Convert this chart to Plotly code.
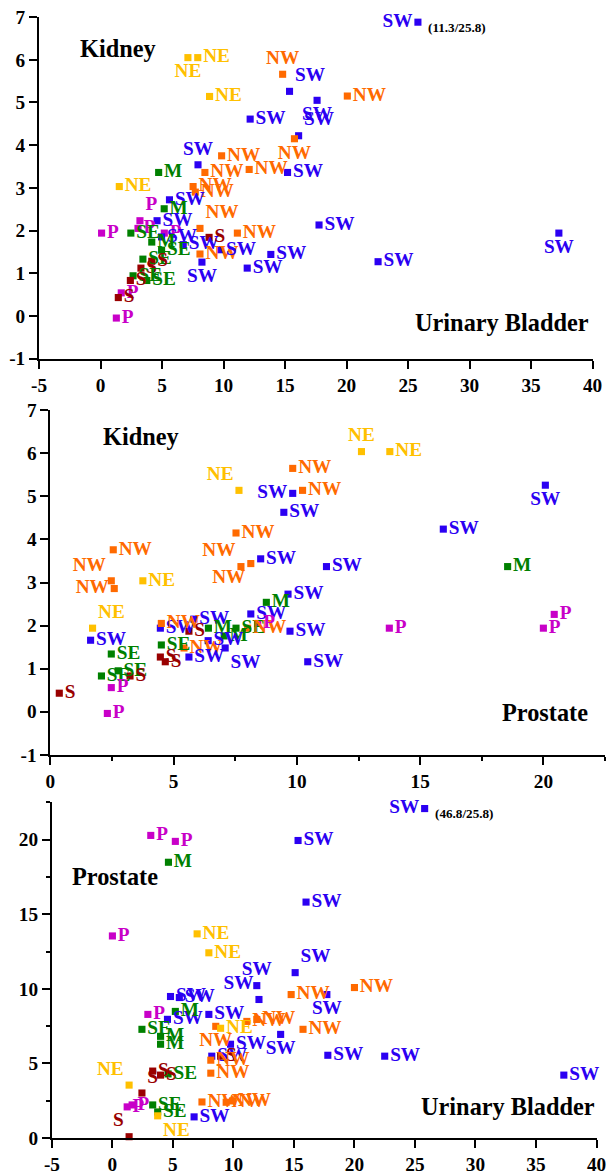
import plotly.graph_objects as go

FIG_W, FIG_H = 615, 1175
BODY_MARGIN = 8                    # default html body margin around the figure
# the page (figure plus body margin) is shown scaled to the 1175 px window height
SCALE = (FIG_H + 2 * BODY_MARGIN) / FIG_H
FONT = "Liberation Serif, Times New Roman, serif"

# Colour per sampling region
REGION_COLORS = {
    "SW": "#2B00F2",
    "NW": "#FF6A00",
    "NE": "#FFC000",
    "M": "#008000",
    "SE": "#008000",
    "S": "#990000",
    "P": "#C800C8",
}

# Panel A: Kidney vs Urinary Bladder
a_region = ["NE", "NE", "NE", "NW", "SW", "SW", "SW", "NW", "SW", "NW",
            "SW", "NE", "M", "SW", "NW", "NW", "NW", "NW", "NW", "NW",
            "SW", "M", "SW", "P", "P", "P", "SE", "P", "SW", "M",
            "SW", "SE", "NW", "SW", "S", "NW", "SW", "SW", "SW", "SE",
            "S", "S", "SE", "SE", "S", "P", "S", "P", "SW", "SW",
            "SW", "SW"]
a_bladder = [7.1, 7.9, 8.86, 14.8, 15.36, 12.16, 17.6, 20.06, 16.1, 15.76,
             15.2, 1.52, 4.72, 7.92, 9.84, 8.48, 12.08, 7.52, 7.7, 8.08,
             5.6, 5.17, 4.59, 3.2, 3.04, 0.08, 2.46, 5.18, 4.96, 4.16,
             6.72, 4.96, 8.08, 9.76, 8.82, 11.12, 8.24, 11.92, 13.84, 3.44,
             4.16, 3.28, 2.64, 3.76, 2.42, 1.68, 1.44, 1.28, 17.76, 22.56,
             37.26, 25.8]
a_kidney = [6.05, 6.05, 5.14, 5.66, 5.26, 4.61, 5.05, 5.15, 4.22, 4.15,
            3.36, 3.03, 3.36, 3.54, 3.75, 3.36, 3.43, 3.03, 2.9, 2.05,
            2.72, 2.51, 2.23, 2.23, 2.05, 1.94, 1.94, 1.94, 1.85, 1.73,
            1.67, 1.54, 1.45, 1.55, 1.84, 1.94, 1.26, 1.12, 1.44, 1.33,
            1.28, 1.12, 0.94, 0.83, 0.83, 0.54, 0.43, -0.05, 2.13, 1.27,
            1.94, 11.3]
a_place = ["bc", "r", "r", "tc", "tr", "r", "bc", "r", "tr", "bc",
           "r", "r", "r", "tc", "r", "r", "r", "r", "r", "tr",
           "r", "r", "r", "tr", "r", "r", "r", "r", "r", "r",
           "r", "r", "r", "r", "r", "r", "bc", "r", "r", "r",
           "r", "r", "r", "r", "r", "r", "r", "r", "r", "r",
           "bc", "l"]

# Panel B: Kidney vs Prostate
b_region = ["NW", "NW", "NW", "NE", "NE", "NW", "NW", "NW", "SW", "SW",
            "SW", "NW", "NW", "NE", "NE", "SW", "SW", "SW", "M", "NE",
            "SW", "SE", "SE", "SE", "S", "S", "P", "P", "SW", "NW",
            "SW", "S", "M", "SE", "NW", "S", "S", "SW", "SW", "M",
            "SE", "SW", "NW", "SW", "P", "M", "SW", "SW", "SW", "P",
            "P", "P"]
b_prostate = [2.55, 2.47, 2.59, 3.75, 7.65, 7.53, 7.73, 8.13, 8.53, 9.47,
              9.83, 9.83, 10.23, 12.62, 13.77, 20.08, 15.94, 11.2, 18.55, 1.71,
              1.63, 2.47, 2.07, 2.75, 3.23, 0.36, 2.47, 2.31, 4.46, 4.5,
              5.82, 5.62, 6.41, 4.5, 5.42, 4.46, 4.66, 5.62, 7.09, 7.05,
              7.53, 6.4, 8.0, 8.13, 8.41, 8.76, 9.64, 9.72, 10.44, 13.75,
              20.0, 20.44]
b_kidney = [3.76, 3.04, 2.86, 3.04, 5.14, 4.15, 3.37, 3.44, 3.55, 4.63,
            5.07, 5.65, 5.14, 6.04, 6.04, 5.26, 4.24, 3.37, 3.37, 1.94,
            1.66, 1.34, 0.83, 0.95, 0.83, 0.43, 0.56, -0.04, 1.94, 2.05,
            2.15, 1.87, 1.94, 1.55, 1.48, 1.27, 1.16, 1.27, 1.48, 1.76,
            1.94, 1.65, 1.94, 2.27, 2.05, 2.54, 2.73, 1.87, 1.16, 1.94,
            1.94, 2.26]
b_place = ["r", "tl", "l", "r", "tl", "r", "tl", "bl", "r", "r",
           "l", "r", "r", "tc", "r", "bc", "r", "r", "r", "tr",
           "r", "r", "r", "r", "r", "r", "r", "r", "r", "r",
           "r", "r", "r", "r", "r", "r", "r", "r", "br", "r",
           "r", "r", "r", "r", "r", "r", "r", "r", "r", "r",
           "r", "r"]

# Panel C: Prostate vs Urinary Bladder
c_region = ["P", "P", "M", "P", "NE", "NE", "SW", "SW", "SW", "SW",
            "SW", "NW", "SW", "NW", "SW", "SW", "SW", "M", "P", "SE",
            "M", "M", "SW", "NW", "NE", "NW", "NW", "SW", "NW", "SW",
            "SW", "S", "NW", "NW", "S", "S", "SE", "NE", "S", "P",
            "P", "SE", "SE", "NE", "S", "NW", "NW", "NW", "SW", "SW",
            "SW", "SW", "SW"]
c_bladder = [3.17, 5.2, 4.63, 0.0, 7.0, 7.97, 15.34, 16.0, 11.93, 15.1,
             25.8, 20.0, 12.11, 14.77, 4.8, 5.53, 4.55, 5.2, 2.93, 2.44,
             3.98, 3.98, 7.97, 8.54, 8.94, 11.11, 11.93, 13.9, 15.75, 9.76,
             8.21, 8.94, 8.13, 8.13, 3.33, 3.98, 4.6, 1.38, 2.44, 1.22,
             1.63, 3.33, 3.74, 3.74, 1.38, 7.4, 9.92, 9.4, 6.75, 17.72,
             17.8, 22.5, 37.3]
c_prostate = [20.29, 19.89, 18.49, 13.55, 13.69, 12.42, 19.95, 15.82, 10.22, 11.09,
              46.8, 10.09, 9.29, 9.62, 9.49, 9.42, 7.96, 8.49, 8.29, 7.29,
              6.82, 6.29, 8.29, 7.49, 7.36, 7.82, 7.95, 6.95, 7.29, 6.29,
              5.49, 5.49, 5.22, 4.35, 4.49, 4.22, 4.3, 3.55, 3.02, 2.09,
              2.22, 2.22, 1.75, 1.49, 0.09, 2.42, 2.49, 2.4, 1.42, 9.62,
              5.55, 5.49, 4.22]
c_place = ["r", "r", "r", "r", "r", "r", "r", "r", "tc", "tr",
           "l", "r", "tl", "r", "r", "r", "r", "r", "r", "r",
           "r", "r", "r", "bc", "r", "r", "r", "bc", "r", "r",
           "r", "r", "r", "r", "r", "r", "r", "tl", "tr", "r",
           "r", "r", "r", "br", "tl", "r", "r", "r", "r", "bc",
           "r", "r", "r"]

PLACE = {"r": "middle right", "l": "middle left", "tc": "top center",
         "bc": "bottom center", "tr": "top right", "tl": "top left",
         "br": "bottom right", "bl": "bottom left"}

LABEL_SIZE = 19 * SCALE
fig = go.Figure()


def add_panel(xs, ys, regions, places, xa, ya, y_cap):
    """Scatter of one organ pair; values above y_cap are pinned at the top
    edge and their true (y/x) values are written next to the mark."""
    shown = [min(v, y_cap) for v in ys]
    cols = [REGION_COLORS[r] for r in regions]
    fig.add_trace(go.Scatter(
        x=xs, y=shown, mode="markers+text", text=regions,
        textposition=[PLACE[p] for p in places],
        marker=dict(symbol="square", size=7 * SCALE, color=cols, line=dict(width=0)),
        textfont=dict(family=FONT, size=LABEL_SIZE, color=cols, weight="bold"),
        cliponaxis=False, xaxis=xa, yaxis=ya, showlegend=False, hoverinfo="skip",
    ))
    for x, y, s in zip(xs, ys, shown):
        if y > y_cap:
            fig.add_annotation(
                x=x, y=s, xref=xa, yref=ya, text=f"({y:g}/{x:g})",
                showarrow=False, xanchor="left", yanchor="middle",
                xshift=8, yshift=-5,
                font=dict(family=FONT, size=13 * SCALE, color="black", weight="bold"),
            )


add_panel(a_bladder, a_kidney, a_region, a_place, "x", "y", 6.88)
add_panel(b_prostate, b_kidney, b_region, b_place, "x2", "y2", 7.0)
add_panel(c_bladder, c_prostate, c_region, c_place, "x3", "y3", 22.09)


def fx(p):
    """Window pixel column -> paper fraction of the figure."""
    return min(1.0, (p * SCALE - BODY_MARGIN) / FIG_W)


def fy(p):
    """Window pixel row -> paper fraction of the figure."""
    return 1 - (p * SCALE - BODY_MARGIN) / FIG_H


tick_font = dict(family=FONT, size=19 * SCALE, color="black", weight="bold")
axis_style = dict(showline=True, linecolor="black", linewidth=2, ticks="outside",
                  ticklen=8, tickwidth=2, tickcolor="black", showgrid=False,
                  zeroline=False, tickfont=tick_font, fixedrange=True)


def ticks(vals):
    return dict(tickmode="array", tickvals=vals, ticktext=[f"{v:g}" for v in vals])


def minor(vals):
    return dict(tickmode="array", tickvals=vals, ticks="outside", ticklen=4,
                tickwidth=2, tickcolor="black", showgrid=False)


bladder_ticks = [-5, 0, 5, 10, 15, 20, 25, 30, 35, 40]
kidney_ticks = [-1, 0, 1, 2, 3, 4, 5, 6, 7]

fig.update_layout(
    width=FIG_W, height=FIG_H,
    margin=dict(l=0, r=0, t=0, b=0),
    paper_bgcolor="white", plot_bgcolor="white",
    xaxis=dict(domain=[fx(39.5), fx(602)], range=[-5, 40], anchor="y",
               **ticks(bladder_ticks), **axis_style),
    yaxis=dict(domain=[fy(359), fy(15)], range=[-1, 7], anchor="x",
               **ticks(kidney_ticks), **axis_style),
    xaxis2=dict(domain=[fx(51), 1.0], range=[0, 22.5], anchor="y2",
                **ticks([0, 5, 10, 15, 20]),
                minor=minor([2.5, 7.5, 12.5, 17.5, 22.5]), **axis_style),
    yaxis2=dict(domain=[fy(758), fy(411)], range=[-1, 7], anchor="x2",
                **ticks(kidney_ticks), **axis_style),
    xaxis3=dict(domain=[fx(52.5), fx(606)], range=[-5, 40], anchor="y3",
                **ticks(bladder_ticks), **axis_style),
    yaxis3=dict(domain=[fy(1144), fy(806)], range=[0, 22.5], anchor="x3",
                **ticks([0, 5, 10, 15, 20]),
                minor=minor([2.5, 7.5, 12.5, 17.5, 22.5]), **axis_style),
)

# Organ names inside each panel
title_font = dict(family=FONT, size=24 * SCALE, color="black", weight="bold")
organ_labels = [
    ("Kidney", 120, 47, "center"),
    ("Urinary Bladder", 600, 323, "right"),
    ("Kidney", 143, 437, "center"),
    ("Prostate", 599, 715, "right"),
    ("Prostate", 117, 881, "center"),
    ("Urinary Bladder", 606, 1112, "right"),
]
for txt, x, y, anchor in organ_labels:
    fig.add_annotation(x=fx(x), y=fy(y), xref="paper", yref="paper",
                       text=txt, showarrow=False, xanchor=anchor,
                       yanchor="middle", font=title_font)

fig.write_html("out.html")
